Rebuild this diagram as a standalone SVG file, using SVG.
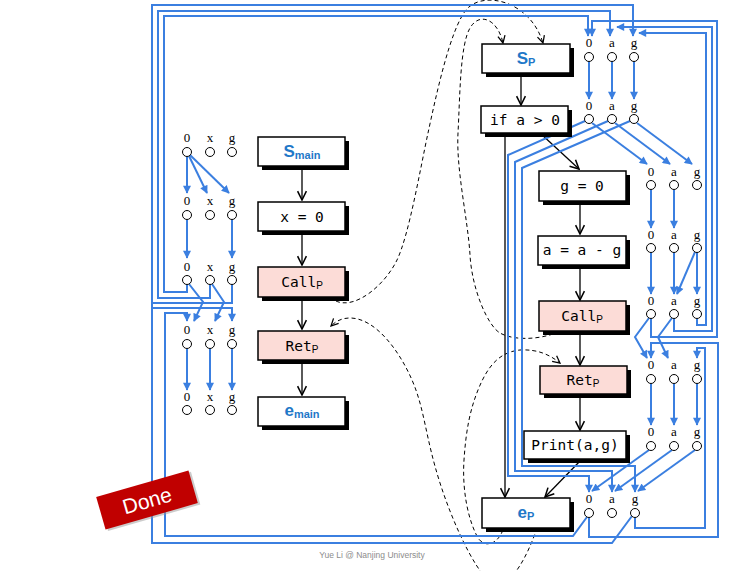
<svg xmlns="http://www.w3.org/2000/svg" width="748" height="571" viewBox="0 0 748 571">
<style>
.bx{fill:#fff;stroke:#000;stroke-width:1.5}
.pk{fill:#FCDCD7}
.sh{fill:#000}
.ct{font-family:"DejaVu Sans Mono","Liberation Mono",monospace;font-size:14.5px;text-anchor:middle;fill:#000}
.sb{font-family:"Liberation Sans",Arial,sans-serif;font-size:10px}
.bl{font-family:"Liberation Sans",Arial,sans-serif;font-weight:bold;fill:#1F78C8;text-anchor:middle;font-size:17px}
.bls{font-size:11px}
.lb{font-family:"Liberation Serif","Times New Roman",serif;font-size:13px;text-anchor:middle;fill:#000}
.nd{fill:#fff;stroke:#000;stroke-width:1}
.w{fill:none;stroke:#3B7FE0;stroke-width:2;marker-end:url(#ba)}
.k{fill:none;stroke:#000;stroke-width:1.3;marker-end:url(#ka)}
.d{fill:none;stroke:#000;stroke-width:1;stroke-dasharray:4 3}
.da{marker-end:url(#da)}
</style>
<defs>
<marker id="ba" viewBox="0 0 10 10" refX="9" refY="5" markerWidth="9" markerHeight="8" markerUnits="userSpaceOnUse" orient="auto"><path d="M0,0 L10,5 L0,10 z" fill="#3B7FE0"/></marker>
<marker id="ka" viewBox="0 0 10 10" refX="9" refY="5" markerWidth="11" markerHeight="11" markerUnits="userSpaceOnUse" orient="auto"><path d="M1,1 L9,5 L1,9" fill="none" stroke="#000" stroke-width="1.4"/></marker>
<marker id="da" viewBox="0 0 10 10" refX="9" refY="5" markerWidth="9" markerHeight="9" markerUnits="userSpaceOnUse" orient="auto"><path d="M1,1 L9,5 L1,9" fill="none" stroke="#000" stroke-width="1.4"/></marker>
</defs>
<rect width="748" height="571" fill="#fff"/>

<g id="connectors">
<path class="d da" d="M336,301 C355,310 385,285 397,260 C409,235 420,170 428,133 C436,96 450,30 466,10 C482,-10 530,0 543,43"/>
<path class="d da" d="M553,334 C535,340 512,340 500,333 C488,326 472,290 470,255 C468,220 456,170 458,133 C460,96 460,45 470,28 C480,11 498,20 503,43"/>
<path class="d da" d="M537,528 C528,555 512,585 497,585 C482,585 455,530 440,483 C425,436 425,410 412,380 C399,350 375,318 350,318 C342,318 336,321 331,326"/>
<path class="d da" d="M503,530 C497,545 485,548 478,538 C468,520 462,490 464,460 C466,430 470,410 478,390 C488,365 500,352 520,350 C538,349 550,355 560,363"/>

<path class="k" d="M302,166 V200"/>
<path class="k" d="M302,231 V265"/>
<path class="k" d="M302,297 V329"/>
<path class="k" d="M302,360 V395"/>
<path class="k" d="M521,73 V105"/>
<path class="k" d="M540,133 L579,169"/>
<path class="k" d="M580,201 V234"/>
<path class="k" d="M580,265 V300"/>
<path class="k" d="M580,331 V365"/>
<path class="k" d="M580,394 V430"/>
<path class="k" d="M505,133 V497"/>
<path class="k" d="M582,459 L545,497"/>

<path class="w" d="M187,156.5 V193"/>
<path class="w" d="M189,156 L207,193"/>
<path class="w" d="M190,155 L229,193"/>
<path class="w" d="M187,219.5 V258"/>
<path class="w" d="M232,219.5 V258"/>
<path class="w" d="M187,284.5 V292 H164 V16 H588 V36"/>
<path class="w" d="M210,284.5 V298 H158 V11 H610 V36"/>
<path class="w" d="M232,284.5 V303 H152 V5 H633 V36"/>
<path class="w" d="M189,284 L203,302 L194,321"/>
<path class="w" d="M212,284 L224,302 L215,321"/>
<path class="w" d="M632,516 L612,543 H152 V303 M152,308 H232 V321"/>
<path class="w" d="M587,517 L573,536 H165 V313 H187 V321"/>
<path class="w" d="M187,348.5 V390"/>
<path class="w" d="M210,348.5 V390"/>
<path class="w" d="M232,348.5 V390"/>

<path class="w" d="M589,61.5 V99"/>
<path class="w" d="M612,61.5 V99"/>
<path class="w" d="M634,61.5 V99"/>
<path class="w" d="M592,123 L647,164"/>
<path class="w" d="M615,123 L670,164"/>
<path class="w" d="M637,123 L692,164"/>
<path class="w" d="M585,121 L508,155 V476 H589 V492"/>
<path class="w" d="M608,121 L515,162 V471 H612 V492"/>
<path class="w" d="M630,121 L522,168 V466 H635 V492"/>
<path class="w" d="M651,189.5 V228"/>
<path class="w" d="M674,189.5 V228"/>
<path class="w" d="M651,252.5 V294"/>
<path class="w" d="M674,252.5 V294"/>
<path class="w" d="M697,252.5 V294"/>
<path class="w" d="M695,252 L677,294"/>
<path class="w" d="M697,318.5 V325 H706 V33 H639"/>
<path class="w" d="M674,318.5 V331 H712 V27 H617"/>
<path class="w" d="M651,318.5 V337 H717 V21 H592 V36"/>
<path class="w" d="M649,318 L635,337 L647,358"/>
<path class="w" d="M672,318 L658,337 L668,358"/>
<path class="w" d="M589,517.5 V537 H718 V343 H651 V358"/>
<path class="w" d="M635,517.5 V528 H705 V348 H697 V358"/>
<path class="w" d="M651,383.5 V425"/>
<path class="w" d="M674,383.5 V425"/>
<path class="w" d="M697,383.5 V425"/>
<path class="w" d="M649,450 L592,491"/>
<path class="w" d="M672,450 L615,491"/>
<path class="w" d="M695,450 L638,491"/>
</g>

<g id="s_main"><rect class="sh" x="262" y="141" width="87" height="29"/><rect class="bx" x="258" y="137" width="87" height="29"/><text class="bl" x="302" y="157">S<tspan class="bls" dy="2">main</tspan></text></g>
<g id="x_assign"><rect class="sh" x="262" y="206" width="87" height="29"/><rect class="bx" x="258" y="202" width="87" height="29"/><text class="ct" x="302" y="222">x = 0</text></g>
<g id="call_main"><rect class="sh" x="262" y="271" width="87" height="30"/><rect class="bx pk" x="258" y="267" width="87" height="30"/><text class="ct" x="302" y="287">Call<tspan class="sb" dy="2">P</tspan></text></g>
<g id="ret_main"><rect class="sh" x="262" y="335" width="87" height="29"/><rect class="bx pk" x="258" y="331" width="87" height="29"/><text class="ct" x="302" y="351">Ret<tspan class="sb" dy="2">P</tspan></text></g>
<g id="e_main"><rect class="sh" x="262" y="401" width="87" height="29"/><rect class="bx" x="258" y="397" width="87" height="29"/><text class="bl" x="302" y="416">e<tspan class="bls" dy="2">main</tspan></text></g>

<g id="s_p"><rect class="sh" x="486" y="48" width="88" height="29"/><rect class="bx" x="482" y="44" width="88" height="29"/><text class="bl" x="526" y="64">S<tspan class="bls" dy="2">P</tspan></text></g>
<g id="if"><rect class="sh" x="485" y="110" width="87" height="27"/><rect class="bx" x="481" y="106" width="87" height="27"/><text class="ct" x="525" y="125">if a &gt; 0</text></g>
<g id="g_assign"><rect class="sh" x="543" y="175" width="87" height="30"/><rect class="bx" x="539" y="171" width="87" height="30"/><text class="ct" x="582" y="191">g = 0</text></g>
<g id="a_assign"><rect class="sh" x="542" y="240" width="88" height="29"/><rect class="bx" x="538" y="236" width="88" height="29"/><text class="ct" x="582" y="255">a = a - g</text></g>
<g id="call_p"><rect class="sh" x="543" y="305" width="87" height="30"/><rect class="bx pk" x="539" y="301" width="87" height="30"/><text class="ct" x="582" y="321">Call<tspan class="sb" dy="2">P</tspan></text></g>
<g id="ret_p"><rect class="sh" x="544" y="370" width="87" height="28"/><rect class="bx pk" x="540" y="366" width="87" height="28"/><text class="ct" x="583" y="385">Ret<tspan class="sb" dy="2">P</tspan></text></g>
<g id="print"><rect class="sh" x="528" y="435" width="102" height="28"/><rect class="bx" x="524" y="431" width="102" height="28"/><text class="ct" x="575" y="450">Print(a,g)</text></g>
<g id="e_p"><rect class="sh" x="486" y="502" width="88" height="30"/><rect class="bx" x="482" y="498" width="88" height="30"/><text class="bl" x="526" y="518">e<tspan class="bls" dy="2">P</tspan></text></g>

<g id="facts_smain"><text class="lb" x="187" y="142">0</text><text class="lb" x="210" y="142">x</text><text class="lb" x="232" y="142">g</text><circle class="nd" cx="187" cy="152" r="4.5"/><circle class="nd" cx="210" cy="152" r="4.5"/><circle class="nd" cx="232" cy="152" r="4.5"/></g>
<g id="facts_x"><text class="lb" x="187" y="205">0</text><text class="lb" x="210" y="205">x</text><text class="lb" x="232" y="205">g</text><circle class="nd" cx="187" cy="215" r="4.5"/><circle class="nd" cx="210" cy="215" r="4.5"/><circle class="nd" cx="232" cy="215" r="4.5"/></g>
<g id="facts_callmain"><text class="lb" x="187" y="271">0</text><text class="lb" x="210" y="271">x</text><text class="lb" x="232" y="271">g</text><circle class="nd" cx="187" cy="280" r="4.5"/><circle class="nd" cx="210" cy="280" r="4.5"/><circle class="nd" cx="232" cy="280" r="4.5"/></g>
<g id="facts_retmain"><text class="lb" x="187" y="334">0</text><text class="lb" x="210" y="334">x</text><text class="lb" x="232" y="334">g</text><circle class="nd" cx="187" cy="344" r="4.5"/><circle class="nd" cx="210" cy="344" r="4.5"/><circle class="nd" cx="232" cy="344" r="4.5"/></g>
<g id="facts_emain"><text class="lb" x="187" y="401">0</text><text class="lb" x="210" y="401">x</text><text class="lb" x="232" y="401">g</text><circle class="nd" cx="187" cy="410" r="4.5"/><circle class="nd" cx="210" cy="410" r="4.5"/><circle class="nd" cx="232" cy="410" r="4.5"/></g>

<g id="facts_sp"><text class="lb" x="589" y="47">0</text><text class="lb" x="612" y="47">a</text><text class="lb" x="634" y="47">g</text><circle class="nd" cx="589" cy="57" r="4.5"/><circle class="nd" cx="612" cy="57" r="4.5"/><circle class="nd" cx="634" cy="57" r="4.5"/></g>
<g id="facts_if"><text class="lb" x="589" y="110">0</text><text class="lb" x="612" y="110">a</text><text class="lb" x="634" y="110">g</text><circle class="nd" cx="589" cy="119" r="4.5"/><circle class="nd" cx="612" cy="119" r="4.5"/><circle class="nd" cx="634" cy="119" r="4.5"/></g>
<g id="facts_g"><text class="lb" x="651" y="176">0</text><text class="lb" x="674" y="176">a</text><text class="lb" x="697" y="176">g</text><circle class="nd" cx="651" cy="185" r="4.5"/><circle class="nd" cx="674" cy="185" r="4.5"/><circle class="nd" cx="697" cy="185" r="4.5"/></g>
<g id="facts_a"><text class="lb" x="651" y="239">0</text><text class="lb" x="674" y="239">a</text><text class="lb" x="697" y="239">g</text><circle class="nd" cx="651" cy="248" r="4.5"/><circle class="nd" cx="674" cy="248" r="4.5"/><circle class="nd" cx="697" cy="248" r="4.5"/></g>
<g id="facts_callp"><text class="lb" x="651" y="305">0</text><text class="lb" x="674" y="305">a</text><text class="lb" x="697" y="305">g</text><circle class="nd" cx="651" cy="314" r="4.5"/><circle class="nd" cx="674" cy="314" r="4.5"/><circle class="nd" cx="697" cy="314" r="4.5"/></g>
<g id="facts_retp"><text class="lb" x="651" y="369">0</text><text class="lb" x="674" y="369">a</text><text class="lb" x="697" y="369">g</text><circle class="nd" cx="651" cy="379" r="4.5"/><circle class="nd" cx="674" cy="379" r="4.5"/><circle class="nd" cx="697" cy="379" r="4.5"/></g>
<g id="facts_print"><text class="lb" x="651" y="436">0</text><text class="lb" x="674" y="436">a</text><text class="lb" x="697" y="436">g</text><circle class="nd" cx="651" cy="446" r="4.5"/><circle class="nd" cx="674" cy="446" r="4.5"/><circle class="nd" cx="697" cy="446" r="4.5"/></g>
<g id="facts_ep"><text class="lb" x="589" y="503">0</text><text class="lb" x="612" y="503">a</text><text class="lb" x="635" y="503">g</text><circle class="nd" cx="589" cy="513" r="4.5"/><circle class="nd" cx="612" cy="513" r="4.5"/><circle class="nd" cx="635" cy="513" r="4.5"/></g>

<g id="done" transform="rotate(-16 147 500)"><rect x="101" y="485" width="96" height="34" fill="#999" opacity="0.5"/><rect x="99" y="483" width="96" height="34" fill="#C00000"/><text x="147" y="508" font-family="Liberation Sans, Arial, sans-serif" font-size="21" fill="#fff" text-anchor="middle">Done</text></g>
<text x="372" y="558" font-family="Liberation Sans, Arial, sans-serif" font-size="8.5" fill="#8c8c8c" text-anchor="middle">Yue Li @ Nanjing University</text>
</svg>
